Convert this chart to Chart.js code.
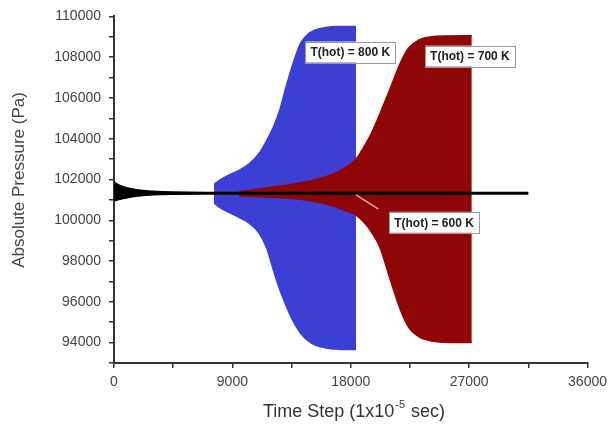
<!DOCTYPE html>
<html>
<head>
<meta charset="utf-8">
<script src="https://cdn.jsdelivr.net/npm/chart.js@4.4.0/dist/chart.umd.min.js"></script>
<style>
  body { margin: 0; background: #fff; }
  #wrap { width: 613px; height: 428px; }
</style>
</head>
<body>
<div id="wrap"><canvas id="myChart" width="613" height="428"></canvas></div>
<script>
// time step (1e-5 s) and envelope of the pressure oscillation (Pa)
const blackTime  = [0, 300, 700, 1200, 2000, 3000, 4500, 7000, 31500];
const blackUpper = [101880, 101760, 101650, 101560, 101470, 101420, 101385, 101365, 101360];
const blackLower = [100950, 101000, 101070, 101130, 101200, 101250, 101275, 101285, 101290];

const redTime  = [9500, 11300, 13900, 16400, 17500, 18400, 19000, 19600, 20200, 20900, 21500, 21900, 22400, 23200, 24200, 25500, 27200];
const redUpper = [101400, 101560, 101800, 102200, 102550, 103000, 103600, 104300, 105200, 106300, 107300, 107900, 108450, 108850, 109000, 109040, 109050];
const redLower = [101200, 101150, 101050, 100750, 100500, 100250, 99900, 99400, 98700, 97300, 96100, 95400, 94750, 94280, 94080, 94010, 94000];

const blueTime  = [7600, 8000, 8700, 9500, 10300, 11000, 11600, 12100, 12600, 13000, 13400, 13800, 14200, 14700, 15300, 16100, 17000, 18400];
const blueUpper = [101750, 101950, 102200, 102450, 102780, 103250, 103900, 104550, 105400, 106350, 107250, 108050, 108700, 109100, 109330, 109450, 109500, 109510];
const blueLower = [100850, 100650, 100400, 100150, 99850, 99400, 98650, 97600, 96600, 95950, 95350, 94850, 94450, 94120, 93880, 93740, 93680, 93660];

const labelText = ['T(hot) = 800 K', 'T(hot) = 700 K', 'T(hot) = 600 K'];
const labelX    = [17960, 27060, 24330];
const labelY    = [108250, 108050, 99900];

function pts(xs, ys) {
  return xs.map((x, i) => ({ x: x, y: ys[i] }));
}

function band(xs, up, lo, color) {
  return [{
    data: pts(xs, up),
    borderColor: color,
    borderWidth: 1.5,
    pointRadius: 0,
    cubicInterpolationMode: 'monotone',
    fill: false
  }, {
    data: pts(xs, lo),
    borderColor: color,
    borderWidth: 1.5,
    pointRadius: 0,
    cubicInterpolationMode: 'monotone',
    backgroundColor: color,
    fill: '-1'
  }];
}

// text labels, pointer and axis titles
const extras = {
  id: 'extras',
  afterDatasetsDraw(chart) {
    const ctx = chart.ctx;
    const xs = chart.scales.x, ys = chart.scales.y;
    ctx.save();

    // pointer from the 600 K label to the black line
    ctx.strokeStyle = '#e7a3a0';
    ctx.lineWidth = 1.5;
    ctx.beginPath();
    ctx.moveTo(xs.getPixelForValue(18400), ys.getPixelForValue(101250));
    ctx.lineTo(xs.getPixelForValue(20100), ys.getPixelForValue(100550));
    ctx.stroke();

    ctx.font = 'bold 12px Arial, "Liberation Sans"';
    ctx.textAlign = 'center';
    ctx.textBaseline = 'middle';
    for (let i = 0; i < labelText.length; i++) {
      const cx = xs.getPixelForValue(labelX[i]);
      const cy = ys.getPixelForValue(labelY[i]);
      const w = ctx.measureText(labelText[i]).width + 10;
      const h = 21;
      ctx.fillStyle = '#fff';
      ctx.fillRect(cx - w / 2, cy - h / 2, w, h);
      ctx.strokeStyle = '#9a9a9a';
      ctx.lineWidth = 1;
      ctx.strokeRect(Math.round(cx - w / 2) + 0.5, Math.round(cy - h / 2) + 0.5, Math.round(w), h);
      ctx.fillStyle = '#222';
      ctx.fillText(labelText[i], cx, cy + 1);
    }

    // x title with superscript
    ctx.fillStyle = '#333';
    ctx.textAlign = 'left';
    ctx.textBaseline = 'alphabetic';
    const a = 'Time Step (1x10', s = '-5', b = ' sec)';
    ctx.font = '18px Arial, "Liberation Sans"';
    const wa = ctx.measureText(a).width, wb = ctx.measureText(b).width;
    ctx.font = '11px Arial, "Liberation Sans"';
    const ws = ctx.measureText(s).width;
    let x0 = 354 - (wa + ws + wb + 2) / 2;
    const base = 417;
    ctx.font = '18px Arial, "Liberation Sans"';
    ctx.fillText(a, x0, base);
    ctx.font = '11px Arial, "Liberation Sans"';
    ctx.fillText(s, x0 + wa + 1, base - 9);
    ctx.font = '18px Arial, "Liberation Sans"';
    ctx.fillText(b, x0 + wa + ws + 2, base);

    // y title
    ctx.translate(19, 180);
    ctx.rotate(-Math.PI / 2);
    ctx.textAlign = 'center';
    ctx.textBaseline = 'middle';
    ctx.font = '17px Arial, "Liberation Sans"';
    ctx.fillStyle = '#444';
    ctx.fillText('Absolute Pressure (Pa)', 0, 0);
    ctx.restore();
  }
};

const canvas = document.getElementById('myChart');
const ctx = canvas.getContext('2d');

const chart = new Chart(ctx, {
  type: 'line',
  data: {
    datasets: [
      ...band(blackTime, blackUpper, blackLower, '#000'),
      ...band(redTime, redUpper, redLower, '#8e0606'),
      ...band(blueTime, blueUpper, blueLower, '#3c3fd4')
    ]
  },
  options: {
    responsive: false,
    animation: false,
    layout: { padding: { left: 0, top: 15, right: 24, bottom: 0 } },
    plugins: { legend: { display: false }, tooltip: { enabled: false } },
    scales: {
      x: {
        type: 'linear',
        min: 0,
        max: 36000,
        afterFit(scale) { scale.height = 65; },
        border: { color: '#333', width: 2 },
        grid: { drawOnChartArea: false, color: '#333', tickLength: 5, lineWidth: 1.5 },
        ticks: {
          stepSize: 4500,
          autoSkip: false,
          maxRotation: 0,
          padding: 6,
          color: '#444',
          font: { family: 'Arial, "Liberation Sans"', size: 14 },
          callback: v => (v % 9000 === 0 ? String(v) : '')
        }
      },
      y: {
        min: 93000,
        max: 110000,
        afterFit(scale) { scale.width = 114; },
        border: { color: '#333', width: 2 },
        grid: { drawOnChartArea: false, color: '#333', tickLength: 5, lineWidth: 1.5 },
        ticks: {
          stepSize: 1000,
          autoSkip: false,
          padding: 8,
          color: '#444',
          font: { family: 'Arial, "Liberation Sans"', size: 14 },
          callback: v => (v % 2000 === 0 ? String(v) : '')
        }
      }
    }
  },
  plugins: [extras]
});
</script>
</body>
</html>
